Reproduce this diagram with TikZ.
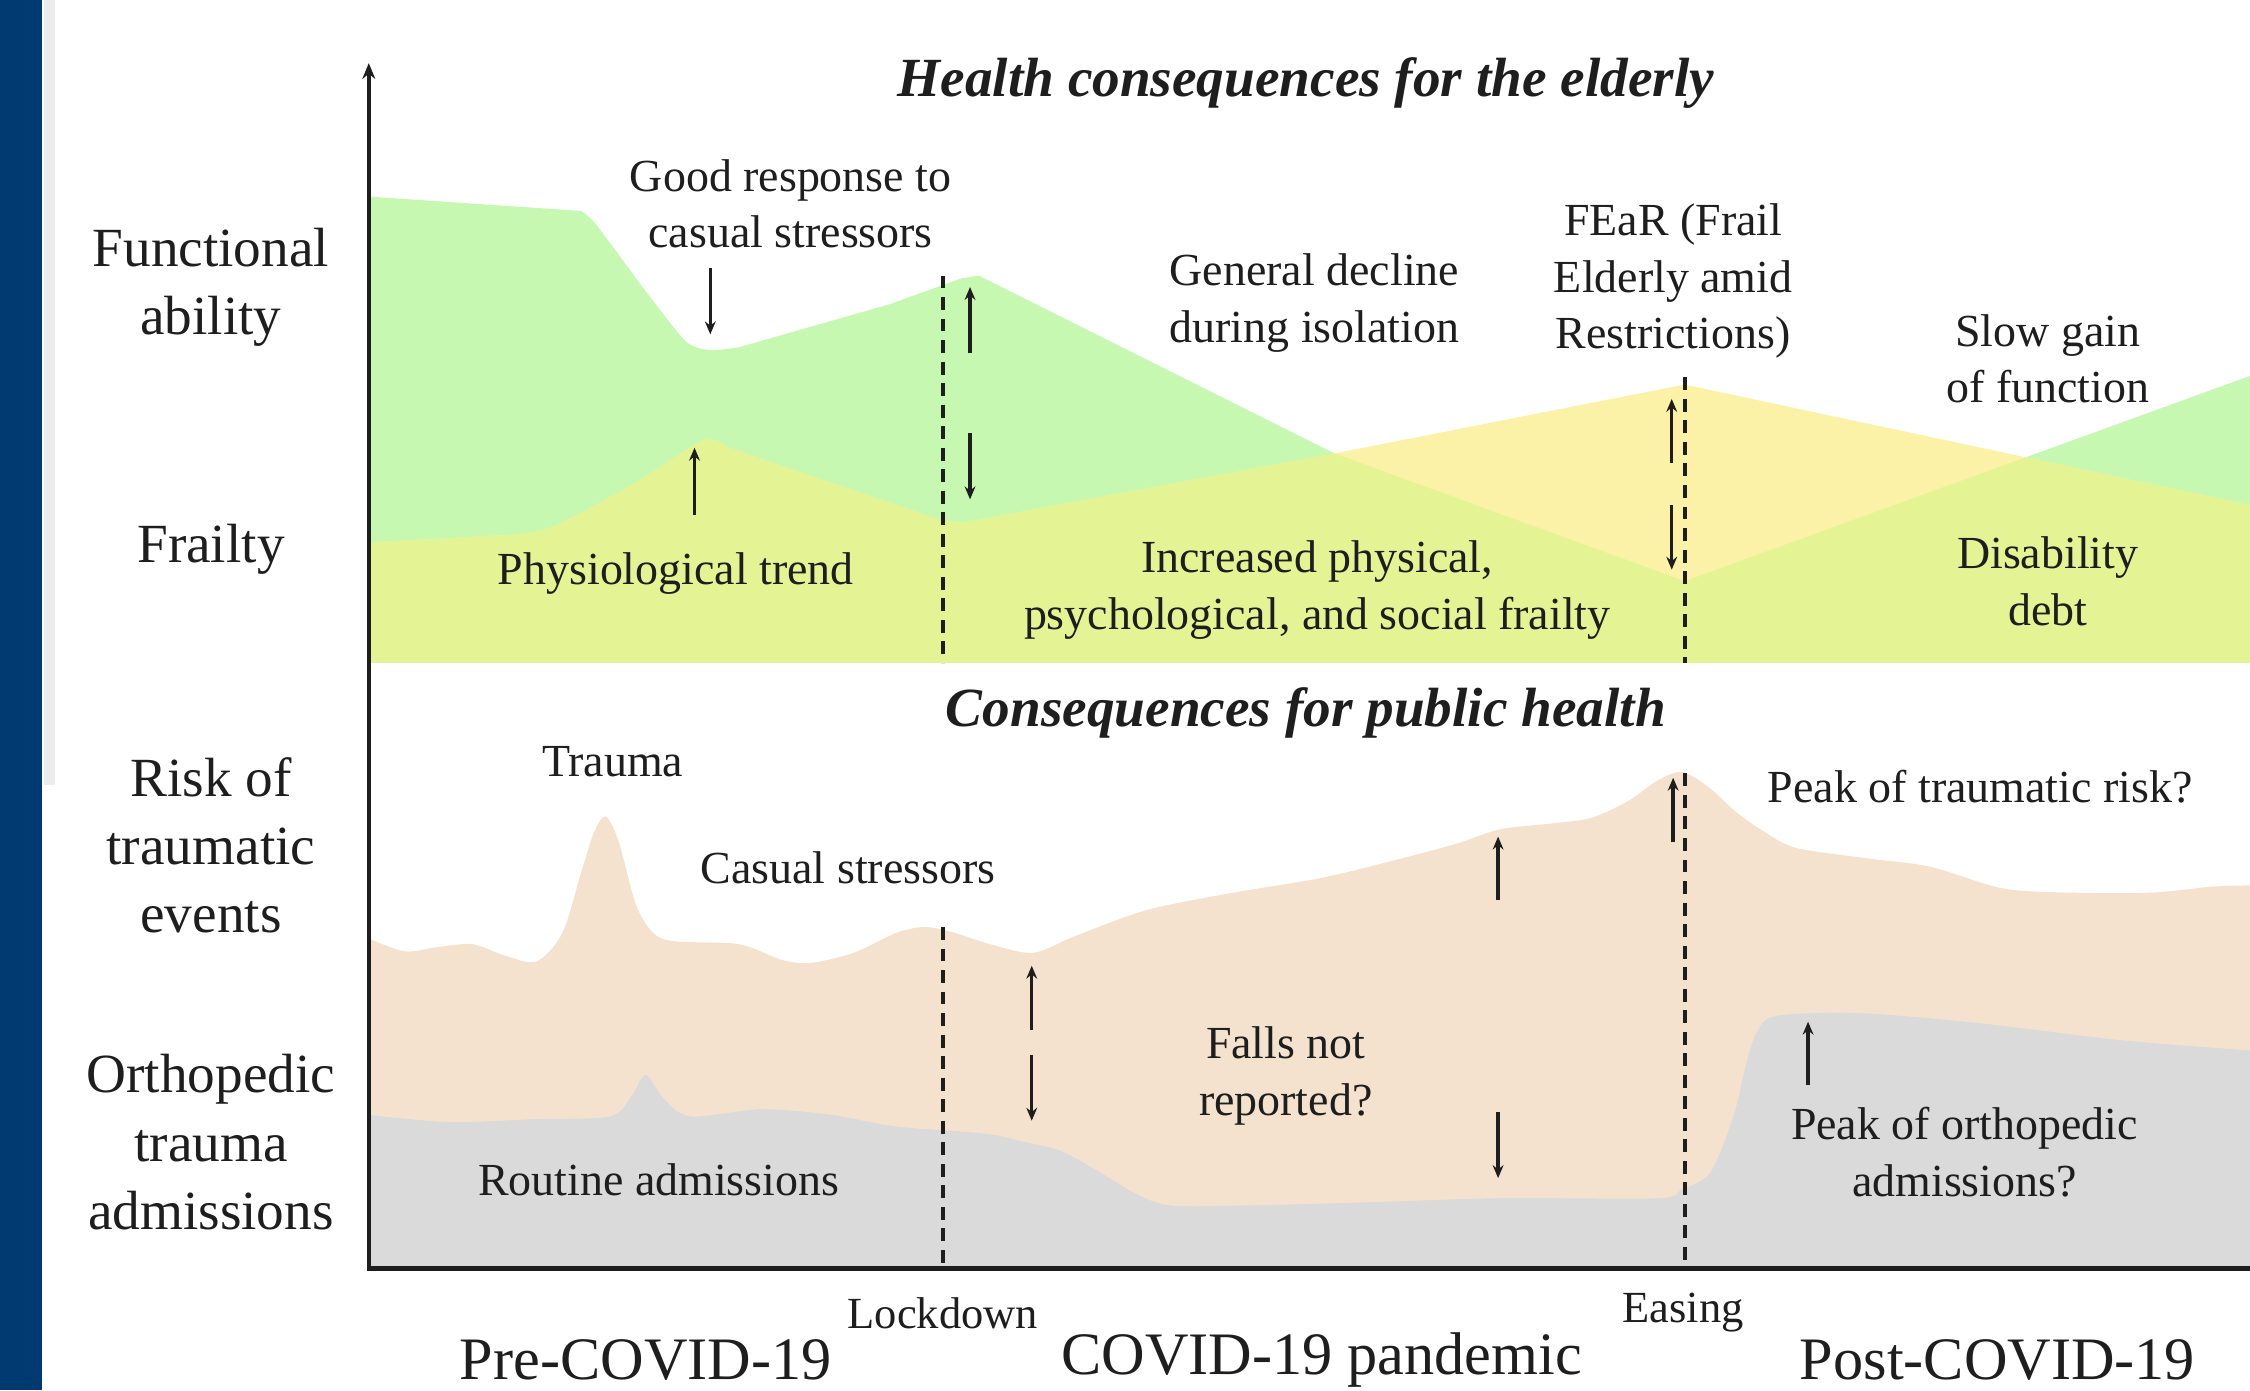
\documentclass[tikz,border=0pt]{standalone}
\usepackage{fontspec}
\setmainfont{Liberation Serif}
\usetikzlibrary{arrows.meta}
\definecolor{navy}{RGB}{0,58,112}
\definecolor{stripgray}{RGB}{236,236,236}
\definecolor{fgreen}{RGB}{198,248,178}
\definecolor{fyellow}{RGB}{251,242,168}
\definecolor{fyg}{RGB}{228,244,148}
\definecolor{beige}{RGB}{244,226,206}
\definecolor{lgray}{RGB}{218,218,218}
\definecolor{ink}{RGB}{30,30,30}
\begin{document}
\begin{tikzpicture}[x=1pt,y=-1pt,
  lbl/.style={font=\fontsize{38.5}{47.5}\selectfont, align=center, text=ink, inner sep=0pt},
  ann/.style={font=\fontsize{32}{39.5}\selectfont, align=center, text=ink, inner sep=0pt},
  ttl/.style={font=\fontsize{38.5}{42}\selectfont\bfseries\itshape, text=ink, inner sep=0pt},
  era/.style={font=\fontsize{42}{46}\selectfont, text=ink, inner sep=0pt},
  evt/.style={font=\fontsize{31}{36}\selectfont, text=ink, inner sep=0pt},
  arr/.style={line width=2.4pt, draw=ink, -{Stealth[length=9pt,width=7.5pt]}},
  dline/.style={line width=2.6pt, draw=ink, dash pattern=on 9pt off 6pt},
  axisline/.style={line width=3pt, draw=ink}]
\useasboundingbox (0,0) rectangle (1568,969);
\fill[white] (0,0) rectangle (1568,969);
\fill[navy] (0,0) rectangle (29,969);
\fill[stripgray] (31,0) rectangle (38,547);

% ---------- upper panel ----------
\def\greenpath{(257,462) -- (257,137) -- (405,147)
  -- plot[smooth,tension=0.4] coordinates {(405,147) (415,156) (450,203) (478,238) (495,244) (515,242)}
  -- (620,212) -- (670,194) -- (682,192)
  -- (930,316) -- (1174,405) -- (1568,262) -- (1568,462) -- cycle}
\def\frailpath{(257,462) -- (257,378)
  -- plot[smooth,tension=0.45] coordinates {(257,378) (330,374) (380,369) (440,338) (490,307) (508,312)}
  -- (657,363) -- (672,364) -- (930,316) -- (1174,268) -- (1568,352) -- (1568,462) -- cycle}
\fill[fgreen] \greenpath;
\fill[fyellow] \frailpath;
\begin{scope}
  \clip \greenpath;
  \fill[fyg] \frailpath;
\end{scope}

% ---------- lower panel ----------
\fill[beige] (257,884) -- (257,654)
  -- plot[smooth,tension=0.5] coordinates {(257,654) (282,663) (305,660) (329,658) (352,666) (374,670) (392,650) (405,608) (414,580) (422,569) (431,586) (443,630) (455,650) (470,656) (515,658) (545,669) (565,671) (595,664) (625,650) (645,646) (665,650) (690,658) (720,664) (750,652) (800,634) (860,622) (920,612) (970,600) (1015,588) (1045,578) (1080,574) (1109,570) (1135,558) (1155,544) (1172,538) (1190,548) (1210,566) (1230,580) (1252,591) (1300,598) (1345,604) (1395,619) (1440,622) (1500,622) (1540,618) (1568,617)}
  -- (1568,884) -- cycle;
\fill[lgray] (257,884) -- (257,777)
  -- plot[smooth,tension=0.5] coordinates {(257,777) (313,782) (370,780) (425,778) (440,764) (450,749) (462,765) (481,778) (531,773) (580,777) (624,785) (686,790) (715,796) (739,802) (765,816) (790,831) (815,840) (870,840) (950,838) (1045,835) (1155,835) (1172,829) (1192,817) (1208,778) (1216,745) (1224,720) (1238,708) (1295,706) (1379,713) (1479,725) (1568,732)}
  -- (1568,884) -- cycle;

% ---------- axes and event lines ----------
\draw[dline] (657,192) -- (657,462);
\draw[dline] (657,646) -- (657,884);
\draw[dline] (1174,263) -- (1174,462);
\draw[dline] (1174,539) -- (1174,884);
\draw[axisline] (256,884) -- (1568,884);
\draw[axisline, -{Stealth[length=11pt,width=9pt]}] (257,885.5) -- (257,44);

% ---------- small trend arrows ----------
\draw[arr] (495,187) -- (495,233);
\draw[arr] (484,359) -- (484,312);
\draw[arr] (676,246) -- (676,200);
\draw[arr] (676,302) -- (676,348);
\draw[arr] (1165,323) -- (1165,278);
\draw[arr] (1165,352) -- (1165,397);
\draw[arr] (719,718) -- (719,673);
\draw[arr] (719,735) -- (719,781);
\draw[arr] (1044,627) -- (1044,583);
\draw[arr] (1044,775) -- (1044,821);
\draw[arr] (1166,587) -- (1166,542);
\draw[arr] (1260,756) -- (1260,712);

% ---------- titles ----------
\node[ttl] (t1) at (910,58) {Health consequences for the elderly};
\node[ttl] (t2) at (910,497) {Consequences for public health};

% ---------- left labels ----------
\node[lbl] (l1) at (147,200) {Functional\\ability};
\node[lbl] (l2) at (147,383) {Frailty};
\node[lbl] (l3) at (147,589) {Risk of\\traumatic\\events};
\node[lbl] (l4) at (147,796) {Orthopedic\\trauma\\admissions};

% ---------- annotations ----------
\node[ann] (a1) at (551,142) {Good response to\\casual stressors};
\node[ann] (a2) at (916,211) {General decline\\during isolation};
\node[ann] (a3) at (1166,196) {FEaR (Frail\\Elderly amid\\Restrictions)};
\node[ann] (a4) at (1427,250) {Slow gain\\of function};
\node[ann] (a5) at (471,400) {Physiological trend};
\node[ann] (a6) at (918,411) {Increased physical,\\psychological, and social frailty};
\node[ann] (a7) at (1427,405) {Disability\\debt};
\node[ann] (a8) at (427,531) {Trauma};
\node[ann] (a9) at (591,605) {Casual stressors};
\node[ann] (a10) at (1380,548) {Peak of traumatic risk?};
\node[ann] (a11) at (896,750) {Falls not\\reported?};
\node[ann] (a12) at (459,822) {Routine admissions};
\node[ann] (a13) at (1369,803) {Peak of orthopedic\\admissions?};

% ---------- time axis labels ----------
\node[evt] (e1) at (657,915) {Lockdown};
\node[evt] (e2) at (1173,915) {Easing};
\node[era] (p1) at (450,948) {Pre-COVID-19};
\node[era] (p2) at (921,948) {COVID-19 pandemic};
\node[era] (p3) at (1392,948) {Post-COVID-19};
\end{tikzpicture}
\end{document}
